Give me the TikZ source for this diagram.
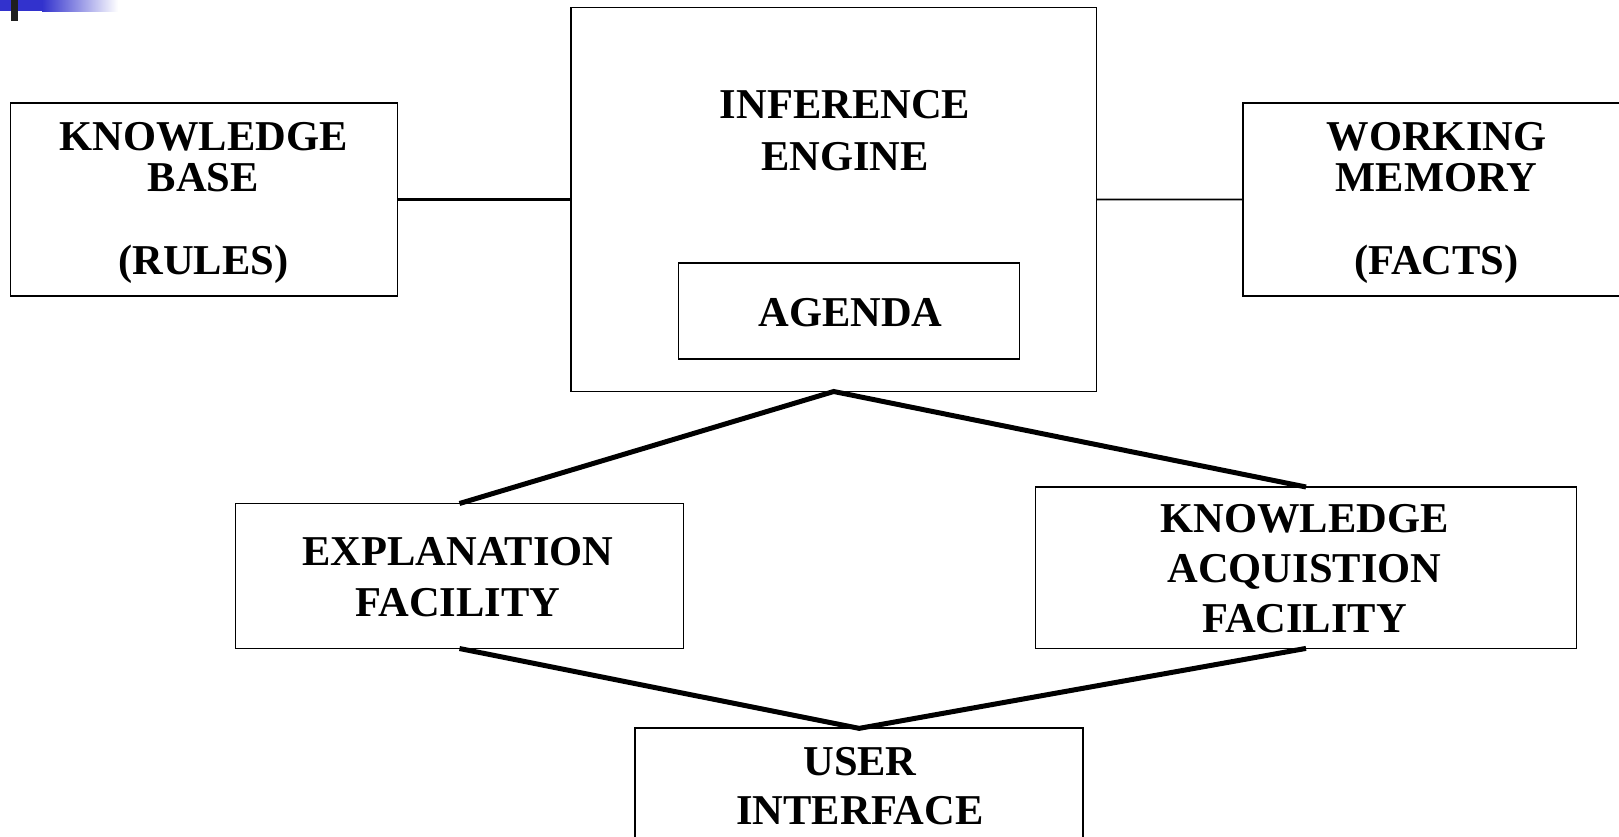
\documentclass[tikz,border=0pt]{standalone}
\usepackage{fontspec}
\setmainfont{Liberation Serif}
\definecolor{slideblue}{RGB}{50,50,205}
\begin{document}
\begin{tikzpicture}[x=1pt,y=-1pt,
  box/.style={draw=black, line width=1.8pt, fill=none, inner sep=0pt, outer sep=0pt},
  lbl/.style={anchor=base, align=center, inner sep=0pt, font=\bfseries\fontsize{42.5}{#1}\selectfont},
  lbl/.default=50,
  link/.style={draw=black, line width=#1},
  link/.default=5pt]
\useasboundingbox (0,0) rectangle (1619,837);

% slide corner ornament
\fill[slideblue] (0,0) rectangle (42,11);
\shade[left color=slideblue, right color=white] (42,0) rectangle (118,11.7);
\fill[black!88] (11,0) rectangle (17.7,20.7);

% boxes
\node[box, minimum width=387pt, minimum height=192.7pt] (kb) at (204,199.6) {};
\node[box, minimum width=525.5pt, minimum height=384pt] (ie) at (833.75,199.5) {};
\node[box, minimum width=341pt, minimum height=96pt] (agenda) at (849,311.3) {};
\node[box, minimum width=387pt, minimum height=192.7pt] (wm) at (1436.5,199.6) {};
\node[box, minimum width=448pt, minimum height=145pt] (exp) at (459.5,576) {};
\node[box, minimum width=541pt, minimum height=161.4pt] (kaf) at (1306,567.7) {};
\node[box, minimum width=448.3pt, minimum height=121.7pt] (ui) at (859.2,789.2) {};

% labels (anchored at the baseline of their last line)
\node[lbl=41.3] (kbtext) at (203.4,274.3) {KNOWLEDGE\\BASE\\[41.3pt](RULES)};
\node[lbl=41.3] (wmtext) at (1436.5,274.3) {WORKING\\MEMORY\\[41.3pt](FACTS)};
\node[lbl=51.5] (ietext) at (845,170.5) {INFERENCE\\ENGINE};
\node[lbl] (agendatext) at (850.5,326) {AGENDA};
\node[lbl=51] (exptext) at (458,616.7) {EXPLANATION\\FACILITY};
\node[lbl=50] (kaftext) at (1304.5,632.7) {KNOWLEDGE\\ACQUISTION\\FACILITY};
\node[lbl=49] (uitext) at (860,824) {USER\\INTERFACE};

% connectors
\draw[link=2.7pt] (kb.east) -- (ie.west);
\draw[link=1.7pt] (ie.east) -- (wm.west);
\draw[link] (exp.north) -- (ie.south) -- (kaf.north);
\draw[link] (exp.south) -- (ui.north) -- (kaf.south);
\end{tikzpicture}
\end{document}
